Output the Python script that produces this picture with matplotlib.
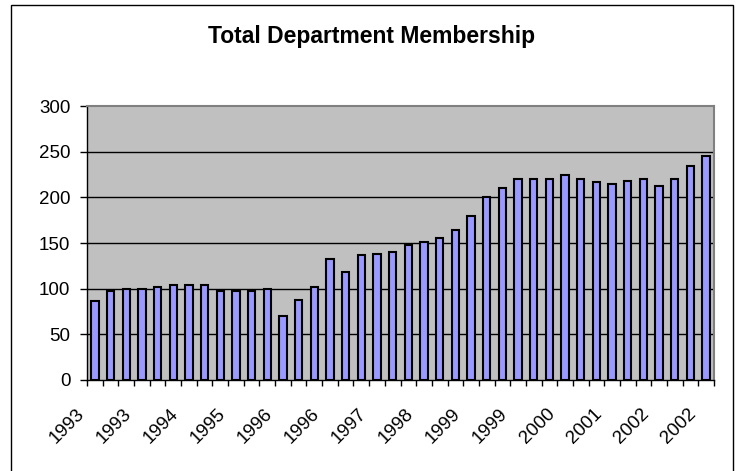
import matplotlib
matplotlib.use('Agg')
import matplotlib.pyplot as plt
import matplotlib.patches as patches
from matplotlib.transforms import offset_copy
import numpy as np

# quarterly membership, 1993 Q1 .. 2002 Q4
years = [1993]*4 + [1994]*4 + [1995]*4 + [1996]*4 + [1997]*4 + \
        [1998]*4 + [1999]*4 + [2000]*4 + [2001]*4 + [2002]*4
members = [87, 97, 100, 100, 102, 104, 104, 104, 97, 97,
           97, 100, 70, 88, 102, 132, 118, 137, 138, 140,
           148, 151, 156, 164, 180, 200, 210, 220, 220, 220,
           224, 220, 217, 215, 218, 220, 212, 220, 234, 245]
yticks = [0, 50, 100, 150, 200, 250, 300]

plt.rcParams['font.family'] = ['Liberation Sans', 'DejaVu Sans']

fig = plt.figure(figsize=(7.38, 4.71), dpi=100)
fig.patch.set_facecolor('white')

# outer chart border
fig.patches.append(patches.Rectangle((10.5/738, -0.05), (733-10.5)/738, 1.05 - 4.5/471,
                                     transform=fig.transFigure, fill=False,
                                     edgecolor='black', lw=1.0))

ax = fig.add_axes([87/738, 1 - 380/471, (714-87)/738, (380-106)/471])
ax.set_facecolor('#C0C0C0')

x = np.arange(len(members))
ax.bar(x, members, width=0.47, color='#9999FF', edgecolor='black', linewidth=1.5, zorder=3)

ax.set_xlim(-0.5, len(members) - 0.5)
ax.set_ylim(0, 300)
ax.set_yticks(yticks)
ax.set_yticklabels([str(v) for v in yticks], fontsize=13.5)
for v in yticks[1:-1]:
    ax.axhline(v, color='black', lw=1.0, zorder=1)

ax.spines['top'].set_color('#808080')
ax.spines['right'].set_color('#808080')
ax.spines['top'].set_linewidth(1.5)
ax.spines['right'].set_linewidth(1.5)
ax.spines['left'].set_linewidth(1.0)
ax.spines['bottom'].set_linewidth(1.0)

ax.tick_params(axis='y', direction='out', length=5, width=1.0, pad=7)
# ticks on category boundaries, labels drawn separately
ax.set_xticks(np.arange(len(members) + 1) - 0.5)
ax.set_xticklabels([])
ax.tick_params(axis='x', direction='out', length=4.5, width=1.0)

trans = offset_copy(ax.get_xaxis_transform(), fig=fig, x=-13, y=-31, units='dots')
for i in range(0, len(members), 3):
    ax.text(i, 0, str(years[i]), transform=trans, rotation=45, ha='right',
            va='center', rotation_mode='anchor', fontsize=13.5)

fig.text(0.503, 1 - 43.3/471, 'Total Department Membership', ha='center',
         va='baseline', fontsize=16.5, fontweight='bold')

fig.savefig('out.png', dpi=100)
